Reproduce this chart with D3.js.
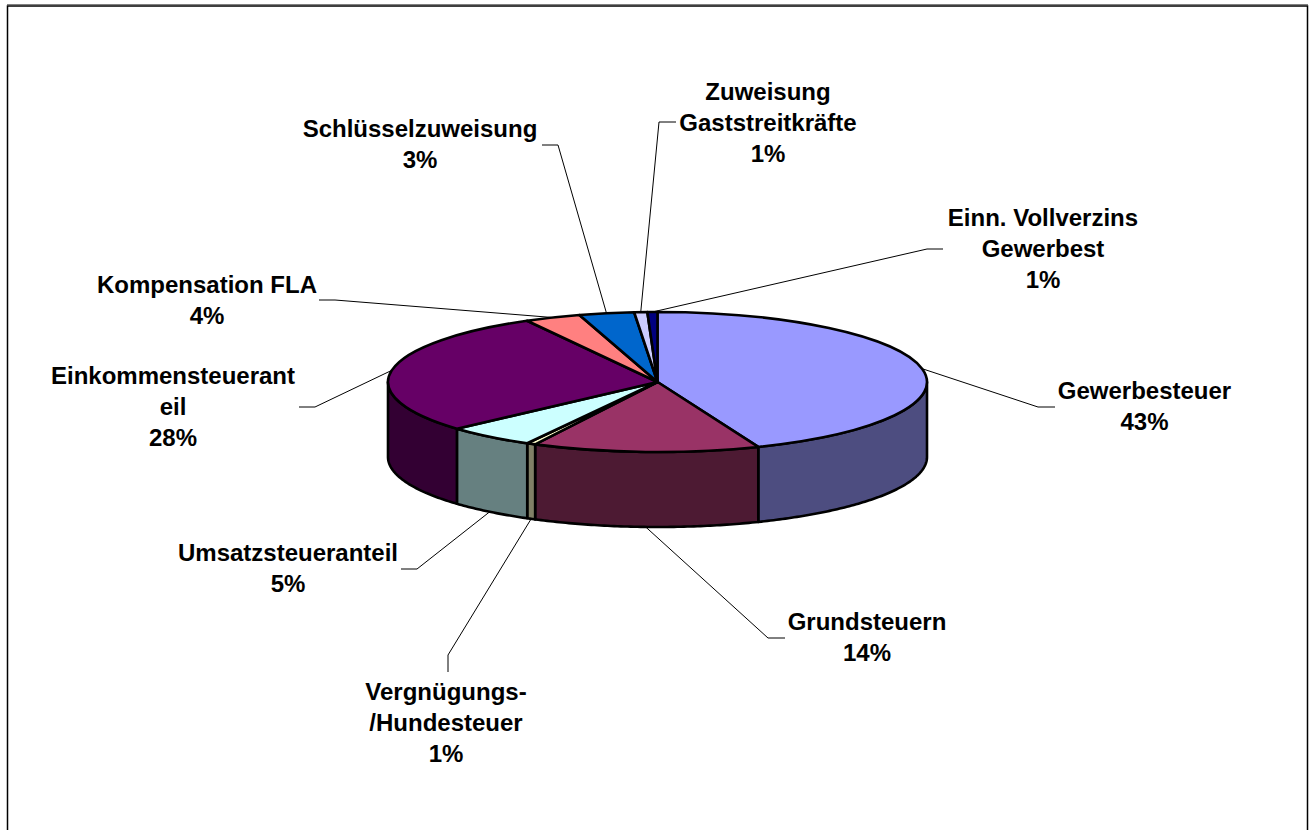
<!DOCTYPE html>
<html>
<head>
<meta charset="utf-8">
<script src="https://cdn.jsdelivr.net/npm/d3@7/dist/d3.min.js"></script>
<style>
html,body{margin:0;padding:0;background:#fff;overflow:hidden}
svg{display:block}
text{font-family:"Liberation Sans",Arial,sans-serif;font-weight:bold;font-size:24px;fill:#000;text-anchor:middle}
</style>
</head>
<body>
<svg id="c" width="1314" height="830"></svg>
<script>
// Data
const categories = ["Gewerbesteuer","Grundsteuern","Vergnügungs-/Hundesteuer","Umsatzsteueranteil","Einkommensteueranteil","Kompensation FLA","Schlüsselzuweisung","Zuweisung Gaststreitkräfte","Einn. Vollverzins Gewerbest"];
const shares = [43.9,13.6,0.53,5.33,28.6,3.36,3.3,0.78,0.6];
const percentLabels = ["43%","14%","1%","5%","28%","4%","3%","1%","1%"];
const labelLines = [["Gewerbesteuer"],["Grundsteuern"],["Vergnügungs-","/Hundesteuer"],["Umsatzsteueranteil"],["Einkommensteuerant","eil"],["Kompensation FLA"],["Schlüsselzuweisung"],["Zuweisung","Gaststreitkräfte"],["Einn. Vollverzins","Gewerbest"]];
const topColors = ["#9999FF","#993366","#FFFFCC","#CCFFFF","#660066","#FF8080","#0066CC","#CCCCFF","#000080"];
const sideColors = ["#4D4D80","#4D1A33","#808066","#668080","#330033","#804040","#003366","#666680","#000040"];

// Layout
const W = 1314, H = 830;
const cx = 657.5, cy = 382, rx = 269.5, ry = 70, depth = 75;
const labelX = [1144.5,867,446,288,173,207,420,768,1043];
const labelTopY = [391,622,692,553,376,285,129,92,218];
const lineGap = 31;
const elbows = [
  [[1038,407],[1055,407]],
  [[768,638],[785,638]],
  [[448,655],[448,672]],
  [[417,569],[401,569]],
  [[315,407],[299,407]],
  [[335,300],[319,300]],
  [[558,145],[542,145]],
  [[659,122],[676,122]],
  [[927,249],[943,249]]
];

const svg = d3.select("#c");
// Frame: open at the bottom
svg.append("line").attr("x1",7).attr("x2",1308).attr("y1",4.5).attr("y2",4.5).attr("stroke","#808080").attr("stroke-width",1);
svg.append("path").attr("d",`M7.5,${H} V6 H1307.5 V${H}`).attr("fill","none").attr("stroke","#000").attr("stroke-width",1.5);

const pie = d3.pie().sort(null).value(d=>d).startAngle(0).endAngle(2*Math.PI);
const arcs = pie(shares);
const px = a => cx + rx*Math.sin(a);
const py = a => cy - ry*Math.cos(a);
const line = d3.line();

// Leader lines
const leaders = svg.append("g");
arcs.forEach((d,i)=>{
  const m = (d.startAngle+d.endAngle)/2;
  const front = m>Math.PI/2 && m<3*Math.PI/2;
  const start = [px(m), py(m)+(front?depth:0)];
  leaders.append("path").attr("d",line([start,...elbows[i]])).attr("fill","none").attr("stroke","#000").attr("stroke-width",1);
});

// Side walls (only the front half of the disc is visible)
const walls = svg.append("g");
arcs.forEach((d,i)=>{
  const a0 = Math.max(d.startAngle,Math.PI/2), a1 = Math.min(d.endAngle,3*Math.PI/2);
  if(a1<=a0) return;
  const n = Math.max(2,Math.ceil((a1-a0)*80));
  const angs = d3.range(n+1).map(k=>a0+(a1-a0)*k/n);
  const pts = angs.map(a=>[px(a),py(a)]).concat(angs.slice().reverse().map(a=>[px(a),py(a)+depth]));
  walls.append("path").attr("d",line(pts)+"Z").attr("fill",sideColors[i]).attr("stroke","#000").attr("stroke-width",2.6).attr("stroke-linejoin","round");
});

// Top faces
const arcGen = d3.arc().innerRadius(0).outerRadius(rx);
const tops = svg.append("g").attr("transform",`translate(${cx},${cy}) scale(1,${ry/rx})`);
arcs.forEach((d,i)=>{
  tops.append("path").attr("d",arcGen(d)).attr("fill",topColors[i]).attr("stroke","#000").attr("stroke-width",2.6)
    .attr("stroke-linejoin","round").attr("vector-effect","non-scaling-stroke");
});

// Labels
const labels = svg.append("g");
categories.forEach((c,i)=>{
  const t = labels.append("text").attr("x",labelX[i]).attr("y",labelTopY[i]+8);
  labelLines[i].concat(percentLabels[i]).forEach((s,k)=>{
    t.append("tspan").attr("x",labelX[i]).attr("dy",k?lineGap:0).text(s);
  });
});
</script>
</body>
</html>
